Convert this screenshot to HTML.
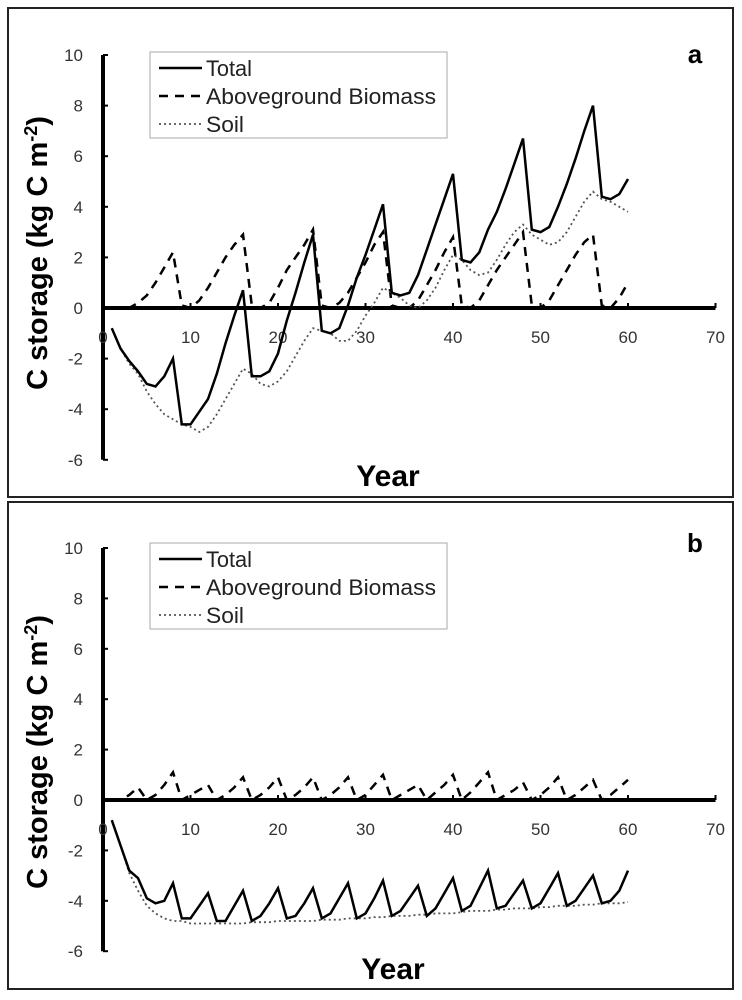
<!DOCTYPE html>
<html><head><meta charset="utf-8"><style>
body{margin:0;background:#fff;}
svg{display:block;font-family:"Liberation Sans",Arial,sans-serif;}
</style></head><body>
<svg id="fig" width="742" height="1000" viewBox="0 0 742 1000"></svg>
<script>
const years = Array.from({length:60},(_,i)=>i+1);
const yTicks = [10,8,6,4,2,0,-2,-4,-6];
const xTicks = [0,10,20,30,40,50,60,70];
const totalA = [-0.8,-1.6,-2.1,-2.5,-3.0,-3.1,-2.7,-2.0,-4.6,-4.6,-4.1,-3.6,-2.6,-1.4,-0.3,0.7,-2.7,-2.7,-2.5,-1.8,-0.5,0.6,1.8,2.9,-0.9,-1.0,-0.8,0.1,1.2,2.1,3.1,4.1,0.6,0.5,0.6,1.3,2.3,3.3,4.3,5.3,1.9,1.8,2.2,3.1,3.8,4.7,5.7,6.7,3.1,3.0,3.2,4.0,4.9,5.9,7.0,8.0,4.4,4.3,4.5,5.1];
const soilA = [-0.8,-1.6,-2.2,-2.6,-3.3,-3.8,-4.2,-4.4,-4.6,-4.7,-4.9,-4.7,-4.2,-3.6,-3.0,-2.4,-2.6,-3.0,-3.1,-2.9,-2.5,-1.9,-1.3,-0.8,-0.9,-1.0,-1.3,-1.3,-0.9,-0.3,0.2,0.8,0.6,0.4,0.1,0.0,0.3,0.8,1.5,2.1,1.9,1.5,1.3,1.4,1.9,2.5,3.0,3.3,2.9,2.7,2.5,2.6,3.0,3.6,4.2,4.6,4.3,4.2,4.0,3.8];
const bioA = [0,0,0,0.2,0.5,1.0,1.6,2.2,0.1,0,0.3,0.8,1.4,2.0,2.5,2.9,0.1,0,0.2,0.8,1.5,2.0,2.5,3.1,0.1,0,0.2,0.6,1.2,1.8,2.5,3.0,0.1,0,0,0.3,0.9,1.5,2.2,2.8,0.1,0,0.3,0.9,1.5,2.0,2.5,3.0,0.1,0,0.3,0.9,1.5,2.1,2.6,2.9,0.1,0,0.4,1.0];
const totalB = [-0.8,-1.8,-2.8,-3.1,-3.9,-4.1,-4.0,-3.3,-4.7,-4.7,-4.2,-3.7,-4.8,-4.8,-4.2,-3.6,-4.8,-4.6,-4.1,-3.5,-4.7,-4.6,-4.1,-3.5,-4.7,-4.5,-3.9,-3.3,-4.7,-4.5,-3.9,-3.2,-4.6,-4.4,-3.9,-3.4,-4.6,-4.3,-3.7,-3.1,-4.4,-4.2,-3.5,-2.8,-4.3,-4.2,-3.7,-3.2,-4.3,-4.1,-3.5,-2.9,-4.2,-4.0,-3.5,-3.0,-4.1,-4.0,-3.6,-2.8];
const soilB = [-0.8,-1.8,-2.9,-3.6,-4.2,-4.5,-4.7,-4.8,-4.8,-4.9,-4.9,-4.9,-4.9,-4.9,-4.9,-4.9,-4.85,-4.85,-4.85,-4.8,-4.8,-4.8,-4.8,-4.8,-4.75,-4.75,-4.75,-4.7,-4.7,-4.7,-4.65,-4.65,-4.6,-4.6,-4.6,-4.55,-4.55,-4.5,-4.5,-4.5,-4.45,-4.4,-4.4,-4.4,-4.35,-4.35,-4.3,-4.3,-4.3,-4.25,-4.25,-4.2,-4.2,-4.2,-4.15,-4.15,-4.1,-4.1,-4.1,-4.05];
const bioB = [0,0,0.2,0.5,0,0.2,0.6,1.1,0,0.2,0.4,0.6,0,0.2,0.5,0.9,0,0.2,0.5,0.9,0,0.2,0.5,0.9,0,0.2,0.5,0.9,0,0.2,0.6,1.0,0,0.2,0.4,0.6,0,0.3,0.6,1.0,0,0.3,0.7,1.1,0,0.2,0.4,0.7,0,0.2,0.5,0.9,0,0.2,0.5,0.8,0,0.2,0.5,0.8];

const NS="http://www.w3.org/2000/svg";
const svg=document.getElementById('fig');
function mk(tag,attrs,parent,text){const e=document.createElementNS(NS,tag);for(const k in attrs)e.setAttribute(k,attrs[k]);if(text!==undefined)e.textContent=text;(parent||svg).appendChild(e);return e;}

function panel(cfg){
  const g=mk('g',{});
  
  
  const fr=mk('rect',{x:8,y:cfg.top,width:725,height:cfg.h,fill:'none',stroke:'#222','stroke-width':2},g);
  
  
  const x0=103, xs=8.75, y0=cfg.zero, ys=cfg.ys;
  const X=v=>x0+v*xs, Y=v=>y0-v*ys;
  const ya=mk('line',{x1:x0,y1:Y(10),x2:x0,y2:Y(-6),stroke:'#000','stroke-width':4},g);
  
  
  yTicks.forEach(t=>{
    mk('line',{x1:x0,y1:Y(t),x2:x0+5,y2:Y(t),stroke:'#000','stroke-width':2},g);
    const tl=mk('text',{x:x0-20,y:Y(t)+6,'text-anchor':'end','font-size':17,fill:'#333'},g,String(t));
    
    
  });
  const xa=mk('line',{x1:x0,y1:y0,x2:X(70),y2:y0,stroke:'#000','stroke-width':4},g);
  
  
  xTicks.forEach(t=>{
    mk('line',{x1:X(t),y1:y0,x2:X(t),y2:y0-5,stroke:'#000','stroke-width':2},g);
    const tl=mk('text',{x:X(t),y:y0+35,'text-anchor':'middle','font-size':17,fill:'#333'},g,String(t));
    
    
  });
  const series=[[cfg.bio,'#000',2.5,'9,7','biomass-line'],[cfg.soil,'#555',1.8,'2,3','soil-line'],[cfg.total,'#000',2.5,'none','total-line']];
  series.forEach(s=>{
    const d=s[0].map((v,i)=>(i?'L':'M')+X(years[i]).toFixed(1)+','+Y(v).toFixed(1)).join('');
    const p=mk('path',{d:d,fill:'none',stroke:s[1],'stroke-width':s[2],'stroke-dasharray':s[3],'stroke-linejoin':'miter'},g);
    
    
  });
  const lg=mk('g',{},g);
  
  
  const ly=cfg.legTop;
  mk('rect',{x:150,y:ly,width:297,height:86,fill:'#fff',stroke:'#aaa','stroke-width':1},lg);
  const entries=[['Total','none','#000',2.5],['Aboveground Biomass','9,7','#000',2.5],['Soil','2,3','#555',1.8]];
  entries.forEach((e,i)=>{
    const yy=ly+16+i*28;
    mk('line',{x1:159,y1:yy,x2:202,y2:yy,stroke:e[2],'stroke-width':e[3],'stroke-dasharray':e[1]},lg);
    const t=mk('text',{x:206,y:yy+8,'font-size':22,fill:'#222','textLength':e[0]==='Total'?46:(e[0]==='Soil'?38:230),'lengthAdjust':'spacingAndGlyphs'},lg,e[0]);
    
    
  });
  const pl=mk('text',{x:695,y:cfg.labelY,'text-anchor':'middle','font-size':26,'font-weight':'bold'},g,cfg.label);
  
  
  const xt=mk('text',{x:cfg.yearX,y:cfg.yearY,'text-anchor':'middle','font-size':30,'font-weight':'bold'},g,'Year');
  
  
  const yt=mk('text',{x:0,y:0,'text-anchor':'middle','font-size':29,'font-weight':'bold',transform:'translate(47,'+cfg.ytY+') rotate(-90)'},g);
  
  
  yt.appendChild(document.createTextNode('C storage (kg C m'));
  mk('tspan',{dy:-10,'font-size':18},yt,'-2');
  mk('tspan',{dy:10},yt,')');
}
panel({label:'a',top:8,h:489,zero:308,ys:25.3,total:totalA,soil:soilA,bio:bioA,legTop:52,labelY:63,yearX:388,yearY:486,ytY:253});
panel({label:'b',top:502,h:487,zero:800,ys:25.2,total:totalB,soil:soilB,bio:bioB,legTop:543,labelY:552,yearX:393,yearY:979,ytY:752});
</script>
</body></html>
